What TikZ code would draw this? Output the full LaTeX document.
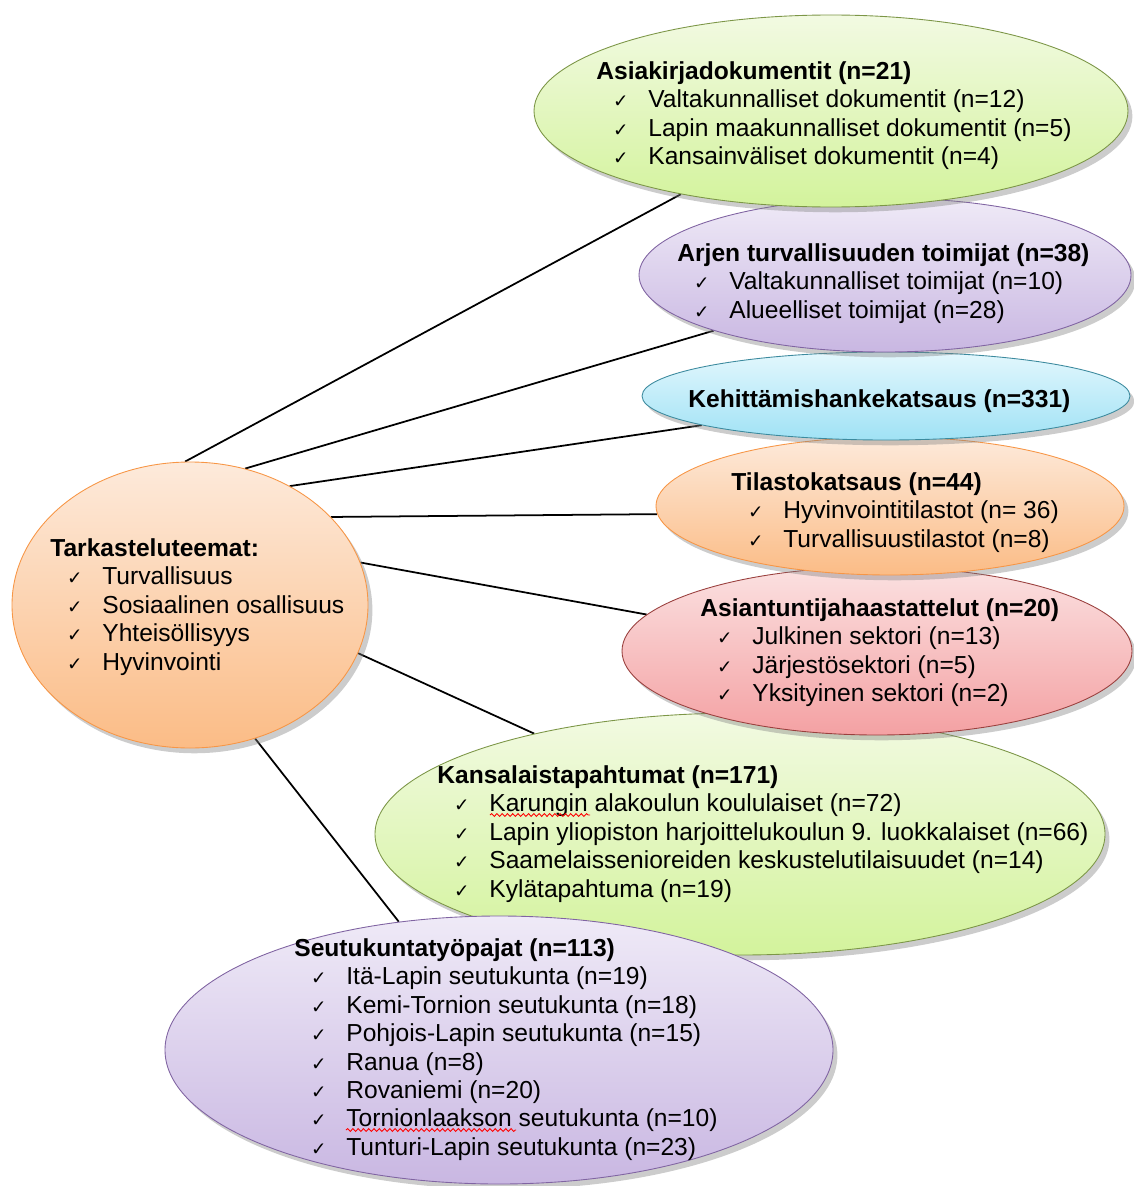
\documentclass[tikz,border=0pt]{standalone}
\usepackage{fontspec}
\setmainfont{Liberation Sans}
\newfontfamily\checkfont{DejaVu Sans}
\usetikzlibrary{shapes.geometric,shadows,decorations.pathmorphing}
\pgfdeclarelayer{bg}
\pgfsetlayers{bg,main}

\definecolor{grnT}{HTML}{F2FAE2}
\definecolor{grnB}{HTML}{D3F39C}
\definecolor{grnD}{HTML}{9BBB59}
\definecolor{purT}{HTML}{EFEAF7}
\definecolor{purB}{HTML}{C9B7E2}
\definecolor{purD}{HTML}{8064A2}
\definecolor{bluT}{HTML}{E3F7FD}
\definecolor{bluB}{HTML}{A0E2F5}
\definecolor{bluD}{HTML}{4BACC6}
\definecolor{orgT}{HTML}{FDEADB}
\definecolor{orgB}{HTML}{FBBC86}
\definecolor{orgD}{HTML}{F79646}
\definecolor{pnkT}{HTML}{FBE1E1}
\definecolor{pnkB}{HTML}{F4A1A3}
\definecolor{pnkD}{HTML}{C0504D}

\newcommand\px{0.02cm}
\newcommand\chk{\hspace*{9.5pt}\makebox[20.1pt][l]{{\checkfont\fontsize{10.5}{10}\selectfont ✓}}}

\tikzset{
  bubble/.style={ellipse, inner sep=0pt, line width=0.5pt,
    drop shadow={shadow xshift=2.5pt, shadow yshift=-3pt, opacity=0.4}},
  grn/.style={draw=grnD!80!black, top color=grnT, bottom color=grnB},
  pur/.style={draw=purD, top color=purT, bottom color=purB},
  blu/.style={draw=bluD!80!black, top color=bluT, bottom color=bluB},
  org/.style={draw=orgD, top color=orgT, bottom color=orgB},
  pnk/.style={draw=pnkD!80!black, top color=pnkT, bottom color=pnkB},
  txt/.style={anchor=north west, inner sep=0pt, align=left,
    font=\fontsize{14}{16.2}\selectfont},
  link/.style={line width=1pt},
  spell/.style={red, line width=0.5pt, decorate,
    decoration={snake, amplitude=0.8pt, segment length=3pt}}
}

\begin{document}
\begin{tikzpicture}[x=0.02cm, y=-0.02cm]
  \useasboundingbox (0,0) rectangle (1133,1186);

  % ellipses, lowest first
  \node[bubble, org, minimum width=356*\px, minimum height=286*\px] (teemat) at (190,605) {};
  \node[bubble, grn, minimum width=730*\px, minimum height=242*\px] (kansal) at (740,834) {};
  \node[bubble, pur, minimum width=668*\px, minimum height=268*\px] (seutu) at (499,1050) {};
  \node[bubble, pnk, minimum width=510*\px, minimum height=168*\px] (asiant) at (877,651) {};
  \node[bubble, org, minimum width=468*\px, minimum height=138*\px] (tilasto) at (890,506) {};
  \node[bubble, blu, minimum width=488*\px, minimum height=88*\px] (kehit) at (886,396) {};
  \node[bubble, pur, minimum width=492*\px, minimum height=154*\px] (arjen) at (885,275) {};
  \node[bubble, grn, minimum width=594*\px, minimum height=192*\px] (asia) at (831,111) {};

  % texts
  \node[txt] (teemat-t) at (50,538) {\textbf{Tarkasteluteemat:}\\
    \chk Turvallisuus\\ \chk Sosiaalinen osallisuus\\ \chk Yhteisöllisyys\\ \chk Hyvinvointi};
  \node[txt] (asia-t) at (596,61) {\textbf{Asiakirjadokumentit (n=21)}\\
    \chk Valtakunnalliset dokumentit (n=12)\\
    \chk Lapin maakunnalliset dokumentit (n=5)\\
    \chk Kansainväliset dokumentit (n=4)};
  \node[txt] (arjen-t) at (677,243) {\textbf{Arjen turvallisuuden toimijat (n=38)}\\
    \chk Valtakunnalliset toimijat (n=10)\\
    \chk Alueelliset toimijat (n=28)};
  \node[txt] (kehit-t) at (688,389) {\textbf{Kehittämishankekatsaus (n=331)}};
  \node[txt] (tilasto-t) at (731,472) {\textbf{Tilastokatsaus (n=44)}\\
    \chk Hyvinvointitilastot (n= 36)\\
    \chk Turvallisuustilastot (n=8)};
  \node[txt] (asiant-t) at (700,598) {\textbf{Asiantuntijahaastattelut (n=20)}\\
    \chk Julkinen sektori (n=13)\\
    \chk Järjestösektori (n=5)\\
    \chk Yksityinen sektori (n=2)};
  \node[txt] (kansal-t) at (437,765) {\textbf{Kansalaistapahtumat (n=171)}\\
    \chk Karungin alakoulun koululaiset (n=72)\\
    \chk Lapin yliopiston harjoittelukoulun 9. luokkalaiset (n=66)\\
    \chk Saamelaissenioreiden keskustelutilaisuudet (n=14)\\
    \chk Kylätapahtuma (n=19)};
  \node[txt] (seutu-t) at (294,938) {\textbf{Seutukuntatyöpajat (n=113)}\\
    \chk Itä-Lapin seutukunta (n=19)\\
    \chk Kemi-Tornion seutukunta (n=18)\\
    \chk Pohjois-Lapin seutukunta (n=15)\\
    \chk Ranua (n=8)\\
    \chk Rovaniemi (n=20)\\
    \chk Tornionlaakson seutukunta (n=10)\\
    \chk Tunturi-Lapin seutukunta (n=23)};

  % spell-check marks
  \draw[spell] ([shift={(53,50)}]kansal-t.north west) -- ([shift={(153,50)}]kansal-t.north west);
  \draw[spell] ([shift={(52,192)}]seutu-t.north west) -- ([shift={(222,192)}]seutu-t.north west);

  % connectors behind the ellipses
  \begin{pgfonlayer}{bg}
    \draw[link] (teemat.92) -- (asia.209);
    \draw[link] (teemat.68) -- (arjen.198);
    \draw[link] (teemat.50) -- (kehit.189);
    \draw[link] (teemat.32) -- (tilasto.182);
    \draw[link] (teemat.14) -- (asiant.171);
    \draw[link] (teemat.344) -- (kansal.154);
    \draw[link] (teemat.296) -- (seutu.128);
  \end{pgfonlayer}
\end{tikzpicture}
\end{document}
